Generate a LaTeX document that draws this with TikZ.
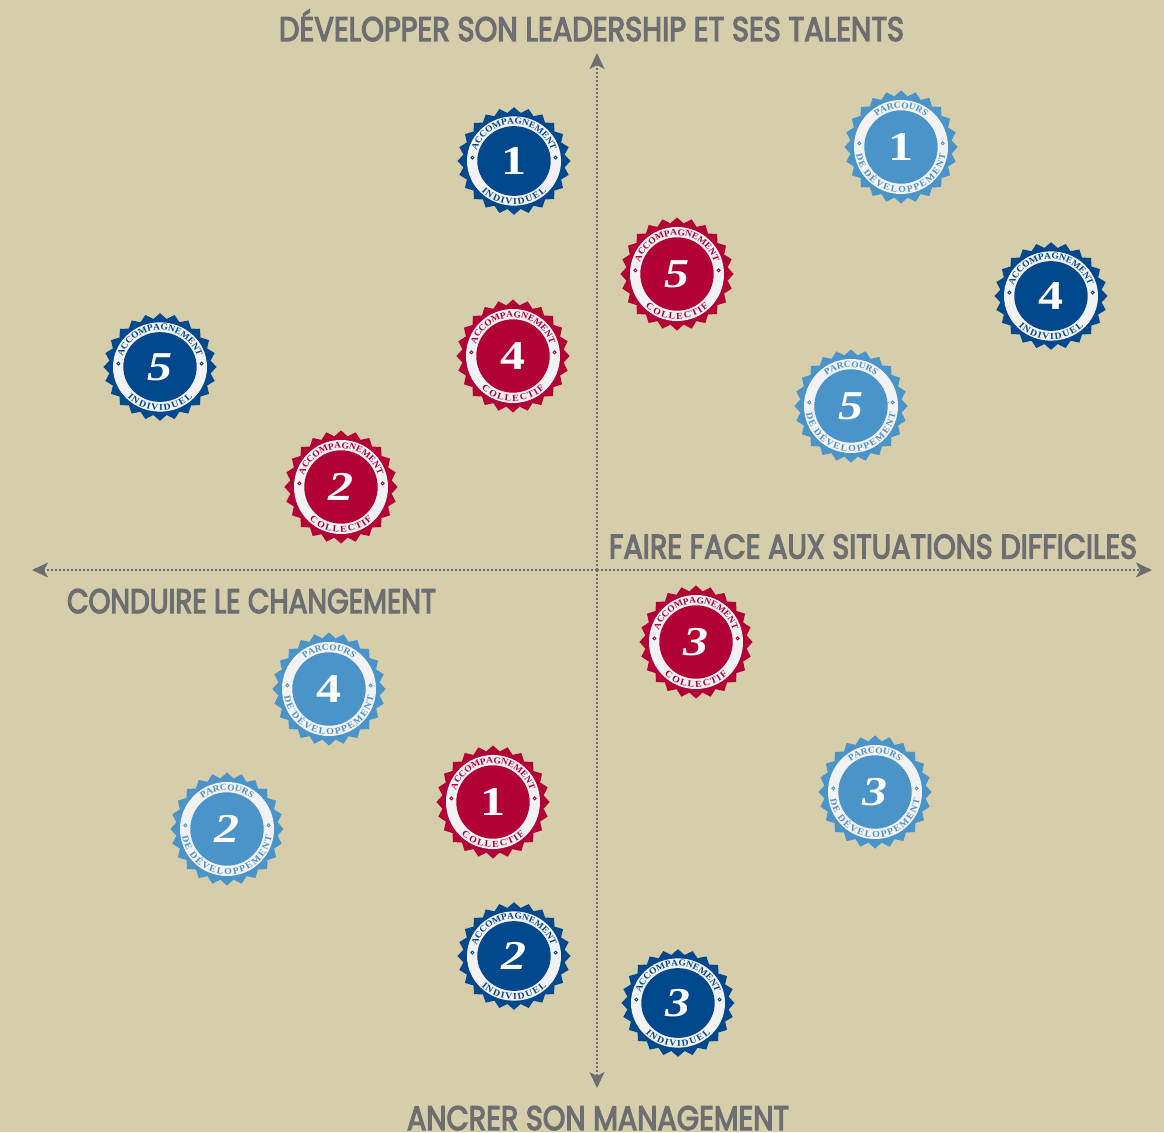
\documentclass[tikz,border=0pt]{standalone}
\usepackage{fontspec}
\usepackage{graphicx}
\setmainfont{Liberation Serif}
\newfontfamily\ttlfont[FakeBold=4]{Poppins}
\newfontfamily\topfont[FakeStretch=1.05]{Liberation Serif}
\newfontfamily\botfont[FakeStretch=1.08]{Liberation Serif}
\usetikzlibrary{arrows.meta,decorations.text}
\definecolor{bgc}{HTML}{D6CDAA}
\definecolor{axc}{HTML}{6D6E71}
\definecolor{ringc}{HTML}{F2F2F4}
\definecolor{indc}{HTML}{00488D}
\definecolor{colc}{HTML}{B10035}
\definecolor{parc}{HTML}{4A94C9}
\tikzset{
  axisline/.style={axc,line width=1.6pt,dash pattern=on 1.6pt off 2.4pt,-{Stealth[length=16pt,width=15pt,inset=4pt]}},
  ttl/.style={axc,anchor=base,inner sep=0pt,font=\ttlfont\fontsize{34}{34}\selectfont},
  digitnode/.style={white,inner sep=0pt,font=\fontsize{41}{41}\selectfont\bfseries},
}
% name, x, y, colour, digit, top text, bottom text, y radius factor, font shape
\newcommand\mybadge[9]{%
\begin{scope}[shift={(#2,-#3)}]
  \pgfmathsetmacro\ys{#8}
  \fill[#4] (0:56.6 and 56.6*\ys)
    \foreach \a in {0,15,...,345}{ -- ({(\a+7.5)}:51 and 51*\ys) -- ({(\a+15)}:56.6 and 56.6*\ys)} -- cycle;
  \fill[ringc] (0,0) ellipse [x radius=47,y radius=47*\ys];
  \fill[#4] (0,0) ellipse [x radius=36.7,y radius=36.7*\ys];
  \draw[#4,line width=0.9pt] (5:41.8 and 41.8*\ys) circle[radius=1.5];
  \draw[#4,line width=0.9pt] (175:41.8 and 41.8*\ys) circle[radius=1.5];
  \path[decorate,decoration={text along path,text align=center,
     text={|\topfont\fontsize{9}{9}\selectfont\bfseries\color{#4}|#6}}]
     (180:38.8 and 38.8*\ys) arc[start angle=180,end angle=0,x radius=38.8,y radius=38.8*\ys];
  \path[decorate,decoration={text along path,text align=center,raise=-8.4pt,
     text={|\botfont\fontsize{9.1}{9.1}\selectfont\bfseries\color{#4}|#7}}]
     (180:37 and 37*\ys) arc[start angle=180,end angle=360,x radius=37,y radius=37*\ys];
  \node[digitnode] (#1) at (0,0) {\scalebox{1.22}[1]{#9#5}};
\end{scope}}
\begin{document}
\begin{tikzpicture}[x=1pt,y=1pt]
\useasboundingbox (0,0) rectangle (1164,-1132);
\fill[bgc] (0,0) rectangle (1164,-1132);
\coordinate (centre) at (597,-570);
\coordinate (north) at (597,-53);
\coordinate (south) at (597,-1088);
\coordinate (west) at (32,-570);
\coordinate (east) at (1152,-570);
\draw[axisline] (centre) -- (north);
\draw[axisline] (centre) -- (south);
\draw[axisline] (centre) -- (west);
\draw[axisline] (centre) -- (east);
\node[ttl] (tnorth) at (591.5,-41) {\resizebox{625pt}{\height}{DÉVELOPPER SON LEADERSHIP ET SES TALENTS}};
\node[ttl] (teast) at (873,-558.5) {\resizebox{528pt}{\height}{FAIRE FACE AUX SITUATIONS DIFFICILES}};
\node[ttl] (twest) at (251.5,-613) {\resizebox{369pt}{\height}{CONDUIRE LE CHANGEMENT}};
\node[ttl] (tsouth) at (598,-1130) {\resizebox{382pt}{\height}{ANCRER SON MANAGEMENT}};
\mybadge{i1}{514}{161}{indc}{1}{ACCOMPAGNEMENT}{INDIVIDUEL}{0.95}{}
\mybadge{i2}{514}{956}{indc}{2}{ACCOMPAGNEMENT}{INDIVIDUEL}{0.95}{\itshape}
\mybadge{i3}{678}{1003}{indc}{3}{ACCOMPAGNEMENT}{INDIVIDUEL}{0.95}{\itshape}
\mybadge{i4}{1051}{296}{indc}{4}{ACCOMPAGNEMENT}{INDIVIDUEL}{0.95}{}
\mybadge{i5}{160}{367}{indc}{5}{ACCOMPAGNEMENT}{INDIVIDUEL}{0.95}{\itshape}
\mybadge{c1}{493}{802}{colc}{1}{ACCOMPAGNEMENT}{COLLECTIF}{1}{}
\mybadge{c2}{341}{487}{colc}{2}{ACCOMPAGNEMENT}{COLLECTIF}{1}{\itshape}
\mybadge{c3}{696}{642}{colc}{3}{ACCOMPAGNEMENT}{COLLECTIF}{1}{\itshape}
\mybadge{c4}{513}{356}{colc}{4}{ACCOMPAGNEMENT}{COLLECTIF}{1}{}
\mybadge{c5}{677}{274}{colc}{5}{ACCOMPAGNEMENT}{COLLECTIF}{1}{\itshape}
\mybadge{p1}{901}{147}{parc}{1}{PARCOURS}{DE DÉVELOPPEMENT}{1}{}
\mybadge{p2}{227}{829}{parc}{2}{PARCOURS}{DE DÉVELOPPEMENT}{1}{\itshape}
\mybadge{p3}{875}{792}{parc}{3}{PARCOURS}{DE DÉVELOPPEMENT}{1}{\itshape}
\mybadge{p4}{329}{689}{parc}{4}{PARCOURS}{DE DÉVELOPPEMENT}{1}{}
\mybadge{p5}{851}{406}{parc}{5}{PARCOURS}{DE DÉVELOPPEMENT}{1}{\itshape}
\end{tikzpicture}
\end{document}
